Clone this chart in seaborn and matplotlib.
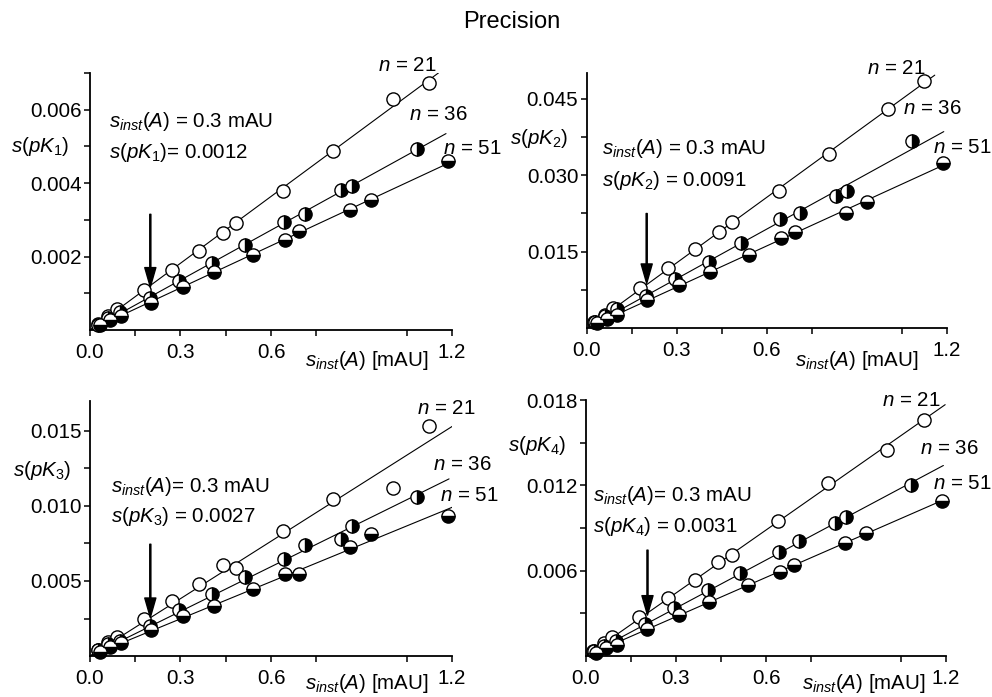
import numpy as np
import pandas as pd
import matplotlib
matplotlib.use("Agg")
import matplotlib.pyplot as plt
from matplotlib.ticker import FixedLocator, NullFormatter
import seaborn as sns

# Instrumental noise levels s_inst(A) [mAU] for each number of spectra n
x_n21 = [0.025, 0.060, 0.088, 0.178, 0.272, 0.362, 0.440, 0.485, 0.640, 0.806, 1.003, 1.125]
x_n36 = [0.028, 0.061, 0.100, 0.198, 0.294, 0.406, 0.514, 0.644, 0.711, 0.831, 0.867, 1.083]
x_n51 = [0.033, 0.067, 0.102, 0.202, 0.309, 0.411, 0.541, 0.647, 0.694, 0.863, 0.933, 1.187]

# Standard deviation of pK1
pk1_n21 = [0.00016, 0.00038, 0.00056, 0.00108, 0.00164, 0.00216, 0.00264, 0.00292, 0.00379, 0.00486, 0.00630, 0.00671]
pk1_n36 = [0.00015, 0.00033, 0.00048, 0.00088, 0.00134, 0.00183, 0.00231, 0.00293, 0.00317, 0.00380, 0.00392, 0.00492]
pk1_n51 = [0.00013, 0.00028, 0.00038, 0.00074, 0.00117, 0.00157, 0.00204, 0.00246, 0.00269, 0.00326, 0.00353, 0.00460]

# Standard deviation of pK2
pk2_n21 = [0.0012, 0.0027, 0.0040, 0.0079, 0.0119, 0.0155, 0.0188, 0.0208, 0.0269, 0.0341, 0.0429, 0.0485]
pk2_n36 = [0.0012, 0.0024, 0.0037, 0.0064, 0.0096, 0.0130, 0.0167, 0.0214, 0.0225, 0.0259, 0.0270, 0.0367]
pk2_n51 = [0.0010, 0.0019, 0.0027, 0.0055, 0.0085, 0.0111, 0.0143, 0.0177, 0.0188, 0.0226, 0.0248, 0.0324]

# Standard deviation of pK3
pk3_n21 = [0.00042, 0.00091, 0.00124, 0.00246, 0.00367, 0.00478, 0.00604, 0.00584, 0.00836, 0.01046, 0.01120, 0.01533]
pk3_n36 = [0.00038, 0.00080, 0.00097, 0.00201, 0.00305, 0.00416, 0.00527, 0.00648, 0.00739, 0.00777, 0.00865, 0.01060]
pk3_n51 = [0.00029, 0.00062, 0.00086, 0.00175, 0.00268, 0.00334, 0.00449, 0.00549, 0.00549, 0.00728, 0.00814, 0.00936]

# Standard deviation of pK4
pk4_n21 = [0.00037, 0.00089, 0.00136, 0.00272, 0.00405, 0.00534, 0.00663, 0.00710, 0.00951, 0.01214, 0.01453, 0.01664]
pk4_n36 = [0.00037, 0.00073, 0.00105, 0.00225, 0.00335, 0.00464, 0.00586, 0.00729, 0.00811, 0.00937, 0.00975, 0.01202]
pk4_n51 = [0.00023, 0.00054, 0.00077, 0.00187, 0.00288, 0.00377, 0.00499, 0.00593, 0.00640, 0.00797, 0.00867, 0.01092]

n_labels = ["21", "36", "51"]
pk_names = ["1", "2", "3", "4"]
pk_at_03 = ["0.0012", "0.0091", "0.0027", "0.0031"]
xticks_major = [0.0, 0.3, 0.6, 1.2]
xticks_minor = [0.15, 0.45, 0.75, 1.05]

sns.set_theme(style="ticks")
plt.rcParams["font.family"] = ["Liberation Sans", "DejaVu Sans"]
plt.rcParams["mathtext.fontset"] = "custom"
plt.rcParams["mathtext.rm"] = "Liberation Sans"
plt.rcParams["mathtext.it"] = "Liberation Sans:italic"
plt.rcParams["mathtext.bf"] = "Liberation Sans:bold"
for key in ("text.color", "axes.labelcolor", "xtick.color", "ytick.color",
            "axes.edgecolor"):
    plt.rcParams[key] = "black"

xs = [x_n21, x_n36, x_n51]
panels = [
    [pk1_n21, pk1_n36, pk1_n51],
    [pk2_n21, pk2_n36, pk2_n51],
    [pk3_n21, pk3_n36, pk3_n51],
    [pk4_n21, pk4_n36, pk4_n51],
]

# layout of each panel
axes_rect = [
    [0.0907, 0.5265, 0.365, 0.369],
    [0.5914, 0.5290, 0.363, 0.366],
    [0.0907, 0.0588, 0.365, 0.366],
    [0.5907, 0.0588, 0.363, 0.367],
]
ylims = [0.007, 0.05, 0.017, 0.018]
y_major = [[0.002, 0.004, 0.006], [0.015, 0.030, 0.045],
           [0.005, 0.010, 0.015], [0.006, 0.012, 0.018]]
y_minor = [[0.001, 0.003, 0.005, 0.007], [0.0075, 0.0225, 0.0375],
           [0.0025, 0.0075, 0.0125], [0.003, 0.009, 0.015]]
fit_end = [[1.155, 1.18, 1.2], [1.16, 1.19, 1.183],
           [1.206, 1.19, 1.206], [1.197, 1.191, 1.186]]
ylab_pos = [(-0.138, 0.712), (-0.132, 0.745), (-0.133, 0.729), (-0.135, 0.824)]
note_pos = [(0.052, 0.81, 0.69), (0.042, 0.706, 0.58),
            (0.058, 0.663, 0.545), (0.02, 0.629, 0.505)]
nlab_pos = [
    [(0.796, 1.03), (0.88, 0.837), (0.975, 0.704)],
    [(0.779, 1.02), (0.879, 0.863), (0.962, 0.71)],
    [(0.903, 0.969), (0.947, 0.749), (0.967, 0.631)],
    [(0.821, 1.0), (0.928, 0.8125), (0.965, 0.676)],
]
arrows = [(0.2, 0.00315, 0.00117), (0.2, 0.0225, 0.0088),
          (0.2, 0.00745, 0.00257), (0.205, 0.00745, 0.00288)]
xlab_pos = [(0.594, -0.117), (0.579, -0.125), (0.594, -0.108), (0.6, -0.108)]
note_eq = [" = 0.3 mAU", " = 0.3 mAU", "= 0.3 mAU", "= 0.3 mAU"]
note_eq2 = ["= ", " = ", " = ", " = "]

marker_styles = [
    dict(fillstyle="full", markerfacecolor="white"),
    dict(fillstyle="right", markerfacecolor="black", markerfacecoloralt="white"),
    dict(fillstyle="bottom", markerfacecolor="black", markerfacecoloralt="white"),
]

fs = 14.8
fig = plt.figure(figsize=(9.92, 6.97), dpi=100)
fig.text(0.516, 0.968, "Precision", ha="center", va="center", fontsize=17)

for i, series in enumerate(panels):
    ax = fig.add_axes(axes_rect[i])
    for j, (x, y) in enumerate(zip(xs, series)):
        xa = np.asarray(x)
        ya = np.asarray(y)
        # least-squares line through the origin
        slope = np.sum(xa * ya) / np.sum(xa * xa)
        xf = np.array([0.0, fit_end[i][j]])
        fit = pd.DataFrame({"x": xf, "y": slope * xf})
        sns.lineplot(data=fit, x="x", y="y", ax=ax, color="black",
                     linewidth=0.8, legend=False, zorder=2)
        pts = pd.DataFrame({"x": xa, "y": ya})
        sns.lineplot(data=pts, x="x", y="y", ax=ax, color="black",
                     linestyle="", marker="o", markersize=9.5,
                     markeredgecolor="black", markeredgewidth=1.0,
                     legend=False, zorder=3, clip_on=False,
                     **marker_styles[j])
        tx, ty = nlab_pos[i][j]
        ax.text(tx, ty, f"$n$ = {n_labels[j]}", transform=ax.transAxes,
                ha="left", va="center", fontsize=fs)

    ax.set_xlim(0, 1.2)
    ax.set_ylim(0, ylims[i])
    ax.xaxis.set_major_locator(FixedLocator(xticks_major))
    ax.xaxis.set_minor_locator(FixedLocator(xticks_minor))
    ax.set_xticklabels(["0.0", "0.3", "0.6", "1.2"])
    ax.yaxis.set_major_locator(FixedLocator(y_major[i]))
    ax.yaxis.set_minor_locator(FixedLocator(y_minor[i]))
    ax.set_yticklabels([f"{v:.3f}" for v in y_major[i]])
    ax.xaxis.set_minor_formatter(NullFormatter())
    ax.tick_params(which="both", direction="out", length=4, width=1.1,
                   labelsize=fs, color="black", labelcolor="black")
    ax.tick_params(axis="y", pad=2)
    ax.tick_params(axis="x", pad=5)
    for side in ("top", "right"):
        ax.spines[side].set_visible(False)
    for side in ("left", "bottom"):
        ax.spines[side].set_linewidth(1.3)
        ax.spines[side].set_color("black")
    ax.set_xlabel("")
    ax.set_ylabel("")

    lx, ly = ylab_pos[i]
    ax.text(lx, ly, f"$s(pK_{pk_names[i]})$", transform=ax.transAxes,
            ha="center", va="center", fontsize=fs)
    xlx, xly = xlab_pos[i]
    ax.text(xlx, xly, "$s_{inst}(A)$ [mAU]", transform=ax.transAxes,
            ha="left", va="center", fontsize=fs)
    nx, ny1, ny2 = note_pos[i]
    ax.text(nx, ny1, "$s_{inst}(A)$" + note_eq[i], transform=ax.transAxes,
            ha="left", va="center", fontsize=fs)
    ax.text(nx, ny2, f"$s(pK_{pk_names[i]})$" + note_eq2[i] + pk_at_03[i],
            transform=ax.transAxes, ha="left", va="center", fontsize=fs)

    axx, y_from, y_to = arrows[i]
    ax.annotate("", xy=(axx, y_to), xytext=(axx, y_from),
                arrowprops=dict(facecolor="black", edgecolor="black",
                                width=0.8, headwidth=8, headlength=14,
                                shrink=0.0))

fig.savefig("out.png", dpi=100)
